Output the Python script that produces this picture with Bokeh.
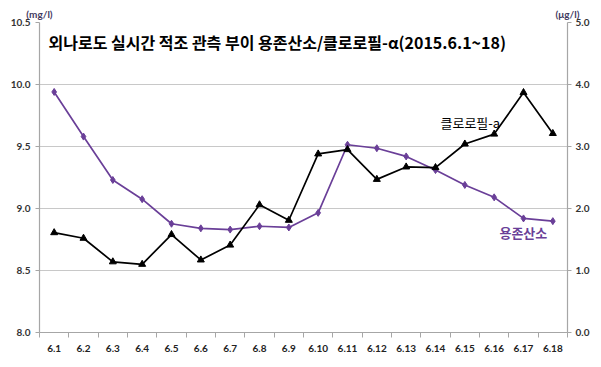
from bokeh.plotting import figure
from bokeh.models import Range1d, LinearAxis, FixedTicker, NumeralTickFormatter, Label
from bokeh.embed import file_html
from bokeh.resources import INLINE

dates = ["6.1", "6.2", "6.3", "6.4", "6.5", "6.6", "6.7", "6.8", "6.9", "6.10",
         "6.11", "6.12", "6.13", "6.14", "6.15", "6.16", "6.17", "6.18"]
do_vals = [9.94, 9.58, 9.23, 9.075, 8.877, 8.84, 8.83, 8.857, 8.847, 8.965,
           9.514, 9.486, 9.42, 9.31, 9.19, 9.09, 8.92, 8.898]
chl_vals = [1.61, 1.52, 1.14, 1.10, 1.58, 1.17, 1.41, 2.06, 1.81, 2.88,
            2.95, 2.47, 2.67, 2.66, 3.04, 3.20, 3.87, 3.21]
left_ticks = [8.0, 8.5, 9.0, 9.5, 10.0, 10.5]
right_ticks = [0.0, 1.0, 2.0, 3.0, 4.0, 5.0]
units = {0: "(mg/l)", 1: "(μg/l)"}

xs = list(range(1, len(dates) + 1))
PURPLE = "#6a3f98"
AX = "#a6a6a6"
LBL = "#333333"
TICKFONT = "Lato"
KFONT = "Noto Sans CJK KR"

p = figure(width=593, height=359, frame_width=528, frame_height=310,
           min_border_left=39, min_border_right=26, min_border_top=22, min_border_bottom=27,
           x_range=Range1d(0.5, len(dates) + 0.5), y_range=Range1d(8.0, 10.5),
           output_backend="svg", toolbar_location=None, tools="")
p.extra_y_ranges = {"right": Range1d(0.0, 5.0)}
p.extra_x_ranges = {"units": Range1d(0, 1)}
p.outline_line_color = None
p.background_fill_color = "white"
p.border_fill_color = "white"

# grid
p.xgrid.grid_line_color = None
p.ygrid.grid_line_color = "#c8c8c8"
p.ygrid.grid_line_width = 1.2
p.ygrid.ticker = FixedTicker(ticks=left_ticks)

# x axis
xa = p.xaxis[0]
xa.ticker = FixedTicker(ticks=xs, minor_ticks=[i + 0.5 for i in range(len(dates) + 1)])
xa.major_label_overrides = {i: d for i, d in zip(xs, dates)}
xa.major_tick_line_color = None
xa.major_tick_out = 0
xa.major_tick_in = 0
xa.minor_tick_line_color = AX
xa.minor_tick_out = 5
xa.minor_tick_in = 0
xa.axis_line_color = AX
xa.axis_line_width = 1.2
xa.major_label_text_font = TICKFONT
xa.major_label_text_font_style = "bold"
xa.major_label_text_font_size = "10px"
xa.major_label_text_color = "#222222"
xa.major_label_standoff = 7

# left axis
ya = p.yaxis[0]
ya.ticker = FixedTicker(ticks=left_ticks)
ya.formatter = NumeralTickFormatter(format="0.0")
ya.minor_tick_line_color = None
ya.major_tick_line_color = AX
ya.major_tick_out = 4
ya.major_tick_in = 0
ya.axis_line_color = AX
ya.axis_line_width = 1.2
ya.major_label_text_font = TICKFONT
ya.major_label_text_font_style = "bold"
ya.major_label_text_font_size = "10px"
ya.major_label_text_color = LBL
ya.major_label_standoff = 5

# right axis
ra = LinearAxis(y_range_name="right", ticker=FixedTicker(ticks=right_ticks),
                formatter=NumeralTickFormatter(format="0.0"))
ra.minor_tick_line_color = None
ra.major_tick_line_color = AX
ra.major_tick_out = 4
ra.major_tick_in = 0
ra.axis_line_color = AX
ra.axis_line_width = 1.2
ra.major_label_text_font = TICKFONT
ra.major_label_text_font_style = "bold"
ra.major_label_text_font_size = "10px"
ra.major_label_text_color = LBL
ra.major_label_standoff = 4
p.add_layout(ra, "right")

# unit labels as an axis above the frame
ua = LinearAxis(x_range_name="units", ticker=FixedTicker(ticks=list(units.keys())),
                major_label_overrides=units)
ua.axis_line_color = None
ua.major_tick_line_color = None
ua.major_tick_out = 0
ua.major_tick_in = 0
ua.minor_tick_line_color = None
ua.major_label_text_font = TICKFONT
ua.major_label_text_font_style = "bold"
ua.major_label_text_font_size = "10px"
ua.major_label_text_color = "#3f3a5f"
ua.major_label_standoff = 3
p.add_layout(ua, "above")

# series
p.line(xs, do_vals, line_color=PURPLE, line_width=1.7)
p.scatter(xs, do_vals, marker="diamond", size=7, fill_color=PURPLE, line_color=PURPLE)
p.line(xs, chl_vals, line_color="black", line_width=1.7, y_range_name="right")
p.scatter(xs, chl_vals, marker="triangle", size=7, fill_color="black", line_color="black",
          y_range_name="right")

# texts
p.add_layout(Label(x=0.807, y=10.339, text="외나로도 실시간 적조 관측 부이 용존산소/클로로필-α(2015.6.1~18)",
                   text_font=KFONT, text_font_style="bold", text_font_size="16px",
                   text_color="black", text_baseline="middle", text_align="left"))
p.add_layout(Label(x=14.17, y=3.39, y_range_name="right", text="클로로필-a",
                   text_font=KFONT, text_font_size="13px", text_color="black",
                   text_baseline="middle", text_align="left"))
p.add_layout(Label(x=16.18, y=1.62, y_range_name="right", text="용존산소",
                   text_font=KFONT, text_font_style="bold", text_font_size="13px",
                   text_color=PURPLE, text_baseline="middle", text_align="left"))

open("out.html", "w").write(file_html(p, INLINE))
